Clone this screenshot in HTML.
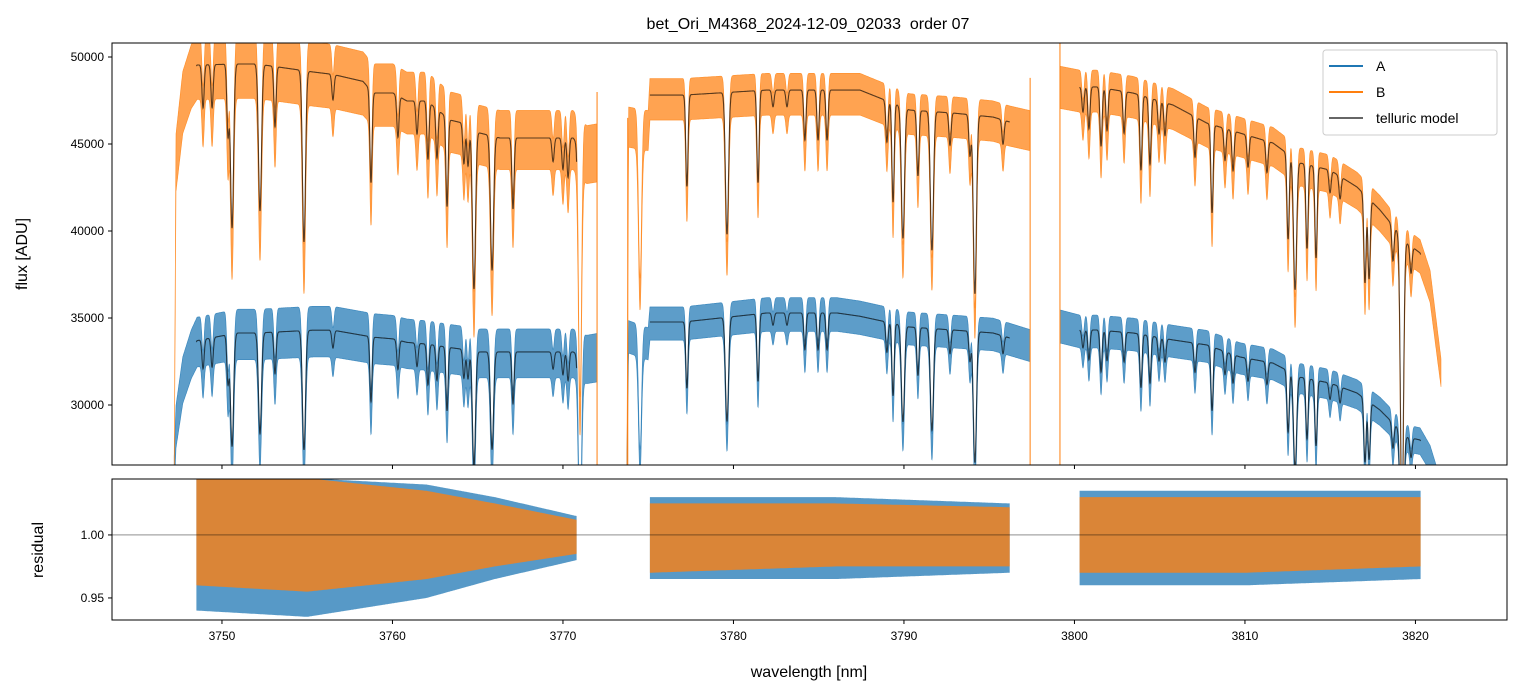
<!DOCTYPE html>
<html><head><meta charset="utf-8"><style>
html,body{margin:0;padding:0;background:#fff}
svg{display:block;font-family:"Liberation Sans","DejaVu Sans",sans-serif}
</style></head><body>
<svg id="c" width="1520" height="696" viewBox="0 0 1520 696" xmlns="http://www.w3.org/2000/svg">
<defs>
<clipPath id="clipTop"><rect x="112" y="43" width="1395" height="422"/></clipPath>
<clipPath id="clipBot"><rect x="112" y="479" width="1395" height="141"/></clipPath>
</defs>
<text x="808" y="29" text-anchor="middle" font-size="16" fill="#000" style="white-space:pre">bet_Ori_M4368_2024-12-09_02033  order 07</text>
<g id="topPanel" clip-path="url(#clipTop)"></g>
<g id="botPanel" clip-path="url(#clipBot)"></g>
<rect x="112" y="43" width="1395" height="422" fill="none" stroke="#000" stroke-width="1"/>
<rect x="112" y="479" width="1395" height="141" fill="none" stroke="#000" stroke-width="1"/>
<g id="axesG"></g>
<text x="27" y="254" text-anchor="middle" font-size="16" transform="rotate(-90 27 254)">flux [ADU]</text>
<text x="43" y="550" text-anchor="middle" font-size="16" transform="rotate(-90 43 550)">residual</text>
<text x="809" y="677" text-anchor="middle" font-size="16">wavelength [nm]</text>
<g>
<rect x="1323" y="50" width="174" height="85" rx="3" fill="#fff" fill-opacity="0.85" stroke="#ccc"/>
<line x1="1329" y1="66" x2="1363" y2="66" stroke="#1f77b4" stroke-width="2"/>
<text x="1376" y="71" font-size="14">A</text>
<line x1="1329" y1="92" x2="1363" y2="92" stroke="#ff7f0e" stroke-width="2"/>
<text x="1376" y="97" font-size="14">B</text>
<line x1="1329" y1="118" x2="1363" y2="118" stroke="#666" stroke-width="2"/>
<text x="1376" y="123" font-size="14">telluric model</text>
</g>
</svg>
<script>
// ---- data ----
const contWl = [3747.20,3747.30,3747.70,3748.20,3748.54,3750.88,3752.05,3755.34,3756.51,3758.27,3758.86,3760.03,3760.85,3762.03,3763.37,3764.14,3765.13,3766.31,3770.59,3771.40,3772.00,
 3773.75,3773.85,3775.00,3775.10,3777.04,3781.97,3783.90,3786.07,3787.42,3790.35,3792.88,3795.22,3796.22,3797.39,
 3799.15,3800.32,3801.32,3803.43,3805.78,3807.77,3809.71,3811.64,3813.23,3814.99,3816.57,3817.92,3819.50,3820.27,3820.86,3821.50];
const contB = [26000,44000,47500,49000,49540,49600,49600,49140,49000,48600,47930,47930,47470,47470,46380,46200,45630,45345,45345,44500,44600,
 26600,46200,46000,47810,47810,48100,48100,48100,48100,46950,46780,46550,46260,46000,
 48500,48280,48280,47930,47240,46200,45630,45060,43910,43500,42530,41210,39310,38740,37000,32000];
const contA = [26000,28800,31500,33000,33700,34140,34140,34300,34300,34000,33900,33800,33600,33500,33300,33200,33050,33050,33050,32700,32800,
 26600,34000,33600,34770,34770,35290,35290,35290,35100,34480,34310,34140,33850,33500,
 34600,34310,34310,34140,33740,33450,32760,32410,31600,31260,30690,29710,28160,27990,27000,25000];
const lineWl = [3748.89,3749.42,3750.35,3750.59,3752.23,3753.11,3754.81,3756.51,3758.74,3760.32,3761.44,3762.08,3762.61,3763.20,3764.19,3764.43,3764.78,3765.84,3767.07,3769.42,3770.00,3770.30,3771.00,
 3774.52,3777.27,3779.62,3781.44,3782.32,3783.14,3784.19,3784.96,3785.49,3789.00,3789.36,3789.94,3790.82,3791.64,3792.70,3793.87,3794.16,3795.81,
 3800.50,3800.85,3801.56,3801.91,3802.91,3803.90,3804.43,3804.96,3805.31,3807.07,3808.07,3808.83,3809.30,3810.18,3811.29,3812.53,3812.94,3813.64,3814.17,3814.99,3815.58,3817.04,3817.28,3818.68,3819.21,3819.74];
const lineDepth = [0.05,0.05,0.08,0.19,0.17,0.07,0.20,0.03,0.11,0.05,0.04,0.07,0.06,0.11,0.05,0.05,0.20,0.17,0.09,0.03,0.04,0.05,0.30,
 0.18,0.11,0.17,0.11,0.02,0.02,0.06,0.06,0.06,0.05,0.12,0.16,0.08,0.17,0.04,0.05,0.22,0.03,
 0.03,0.05,0.07,0.05,0.05,0.09,0.08,0.04,0.04,0.05,0.11,0.04,0.05,0.04,0.04,0.11,0.17,0.11,0.12,0.03,0.03,0.12,0.11,0.05,0.40,0.04];
const dataSegs = [[3747.2,3772.0],[3773.75,3797.39],[3799.15,3821.5]];
const modelSegs = [[3748.5,3770.8],[3775.1,3796.2],[3800.3,3820.3]];
const noiseUpA = [0.04,0.025,0.025];
const noiseLoA = [0.045,0.03,0.03];
const noiseUpB = [0.035,0.02,0.02];
const noiseLoB = [0.04,0.03,0.03];
const spikeWl = [3772.0,3773.8,3797.4,3799.15];
const spikeTop = [47990,46500,48800,52000];
const resWl = [3748.5,3755,3762,3766,3770.8,3775.1,3786,3796.2,3800.3,3810,3820.3];
const resUpA = [1.045,1.045,1.04,1.03,1.015,1.03,1.03,1.025,1.035,1.035,1.035];
const resLoA = [0.94,0.935,0.95,0.965,0.98,0.965,0.965,0.97,0.96,0.96,0.965];
const resUpB = [1.045,1.045,1.035,1.025,1.012,1.025,1.025,1.022,1.03,1.03,1.03];
const resLoB = [0.96,0.955,0.965,0.975,0.985,0.97,0.975,0.975,0.97,0.97,0.975];
const xTicks = [3750,3760,3770,3780,3790,3800,3810,3820];
const yTicks = [30000,35000,40000,45000,50000];
const rTicks = [0.95,1.00];

// ---- scales ----
const X0=112,X1=1507,WL0=3743.55,WL1=3825.37;
const sx = w => X0 + (w-WL0)/(WL1-WL0)*(X1-X0);
const FT=43,FB=465,F0=26552,F1=50805;
const sy = f => FB - (f-F0)/(F1-F0)*(FB-FT);
const RT=479,RB=620,R0=0.9325,R1=1.0444;
const sr = r => RB - (r-R0)/(R1-R0)*(RB-RT);
const NS='http://www.w3.org/2000/svg';
function interp(xs,ys,x){
  if(x<=xs[0])return ys[0];
  for(let i=1;i<xs.length;i++){ if(x<=xs[i]){const t=(x-xs[i-1])/(xs[i]-xs[i-1]);return ys[i-1]+t*(ys[i]-ys[i-1]);} }
  return ys[ys.length-1];
}
function trans(w,k){
  let t=1;
  for(let i=0;i<lineWl.length;i++){const d=w-lineWl[i]; if(Math.abs(d)<0.6){const s=lineDepth[i]>0.15?0.09:0.065; t*=1-lineDepth[i]*k*Math.exp(-d*d/(2*s*s));}}
  return t;
}
function mk(tag,attrs,parent){const e=document.createElementNS(NS,tag);for(const k in attrs)e.setAttribute(k,attrs[k]);parent.appendChild(e);return e;}
const topG=document.getElementById('topPanel'), botG=document.getElementById('botPanel'), axesG=document.getElementById('axesG');

function band(seg,cont,nu,nl,color,name){
  const up=[],lo=[];
  for(let w=seg[0];w<=seg[1]+1e-9;w+=0.015){
    const m=interp(contWl,cont,w)*trans(w,1.15);
    up.push(sx(w).toFixed(1)+','+sy(m*(1+nu)).toFixed(1));
    lo.push(sx(w).toFixed(1)+','+sy(m*(1-nl)).toFixed(1));
  }
  const p=mk('polygon',{points:up.concat(lo.reverse()).join(' '),fill:color,'fill-opacity':0.72,stroke:color,'stroke-width':0.6,'stroke-opacity':0.8},topG);
  
  
}
function model(seg,cont,name){
  const pts=[];
  for(let w=seg[0];w<=seg[1]+1e-9;w+=0.01){pts.push(sx(w).toFixed(1)+','+sy(interp(contWl,cont,w)*trans(w,1)).toFixed(1));}
  const p=mk('polyline',{points:pts.join(' '),fill:'none',stroke:'#000','stroke-opacity':0.65,'stroke-width':1.1},topG);
  
  
}
for(let s=0;s<3;s++){ band(dataSegs[s],contA,noiseUpA[s],noiseLoA[s],'#1f77b4','series-a-seg'+(s+1)); }
for(let s=0;s<3;s++){ band(dataSegs[s],contB,noiseUpB[s],noiseLoB[s],'#ff7f0e','series-b-seg'+(s+1)); }
for(let s=0;s<3;s++){ model(modelSegs[s],contA,'model-a-seg'+(s+1)); model(modelSegs[s],contB,'model-b-seg'+(s+1)); }
for(let i=0;i<spikeWl.length;i++){
  const l=mk('line',{x1:sx(spikeWl[i]),x2:sx(spikeWl[i]),y1:FB,y2:sy(spikeTop[i]),stroke:'#ff7f0e','stroke-width':1},topG);
  
  
}
// residuals
function rband(seg,upArr,loArr,color,op,name){
  const up=[],lo=[];
  for(let w=seg[0];w<=seg[1]+1e-9;w+=0.05){
    up.push(sx(w).toFixed(1)+','+sr(interp(resWl,upArr,w)).toFixed(1));
    lo.push(sx(w).toFixed(1)+','+sr(interp(resWl,loArr,w)).toFixed(1));
  }
  const p=mk('polygon',{points:up.concat(lo.reverse()).join(' '),fill:color,'fill-opacity':op},botG);
  
  
}
for(let s=0;s<3;s++) rband(modelSegs[s],resUpA,resLoA,'#1f77b4',0.75,'residual-a-seg'+(s+1));
for(let s=0;s<3;s++) rband(modelSegs[s],resUpB,resLoB,'#ff7f0e',0.78,'residual-b-seg'+(s+1));
const ref=mk('line',{x1:X0,x2:X1,y1:sr(1),y2:sr(1),stroke:'#000','stroke-width':0.6,'stroke-opacity':0.7},botG);


// axes ticks
xTicks.forEach(t=>{
  const x=sx(t);
  const a=mk('line',{x1:x,x2:x,y1:FB,y2:FB+4,stroke:'#000'},axesG);
  
  
  const b=mk('line',{x1:x,x2:x,y1:RB,y2:RB+4,stroke:'#000'},axesG);
  
  
  const tx=mk('text',{x:x,y:RB+20,'text-anchor':'middle','font-size':12},axesG);
  tx.textContent=t;
  
  
});
yTicks.forEach(t=>{
  const y=sy(t);
  const a=mk('line',{x1:X0-4,x2:X0,y1:y,y2:y,stroke:'#000'},axesG);
  
  
  const tx=mk('text',{x:X0-8,y:y+4,'text-anchor':'end','font-size':12},axesG);
  tx.textContent=t;
  
  
});
rTicks.forEach(t=>{
  const y=sr(t);
  const a=mk('line',{x1:X0-4,x2:X0,y1:y,y2:y,stroke:'#000'},axesG);
  
  
  const tx=mk('text',{x:X0-8,y:y+4,'text-anchor':'end','font-size':12},axesG);
  tx.textContent=t.toFixed(2);
  
  
});
</script>
</body></html>
